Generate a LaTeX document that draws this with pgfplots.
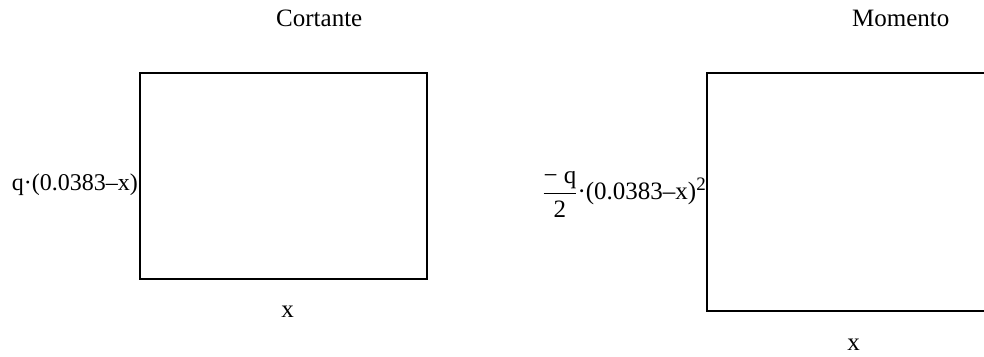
\documentclass[border=0pt]{standalone}
\usepackage{amsmath}
\usepackage{fontspec}
\setmainfont{Liberation Serif}
\usepackage{pgfplots}
\pgfplotsset{compat=1.18}
\begin{document}
\begin{tikzpicture}[x=1pt,y=1pt]
\useasboundingbox (0,0) rectangle (984,356);
\clip (0,0) rectangle (984,356);
\pgfplotsset{emptybox/.style={scale only axis, xmin=0, xmax=1, ymin=0, ymax=1,
  xtick=\empty, ytick=\empty, anchor=south west}}
\begin{axis}[emptybox, at={(140pt,77pt)}, width=287pt, height=206pt,
  axis line style={line width=1.5pt, black}]
\end{axis}
\begin{axis}[emptybox, at={(707pt,45pt)}, width=287pt, height=238pt,
  axis line style={line width=2pt, black}]
\end{axis}
\fontsize{25}{29}\selectfont
\node[anchor=base west, inner sep=0pt] at (276,329) {Cortante};
\node[anchor=base west, inner sep=0pt] at (852,329) {Momento};
\node[anchor=base east, inner sep=0pt] at (706,156) {$\dfrac{\text{− q}}{\text{2}}\text{·(0.0383–x)}$\raisebox{9pt}{\fontsize{19}{21}\selectfont 2}};
\node[anchor=base, inner sep=0pt] at (287.5,39) {x};
\node[anchor=base, inner sep=0pt] at (853.5,6) {x};
\fontsize{24}{28}\selectfont
\node[anchor=base east, inner sep=0pt] at (138,165) {q·(0.0383–x)};
\end{tikzpicture}
\end{document}
